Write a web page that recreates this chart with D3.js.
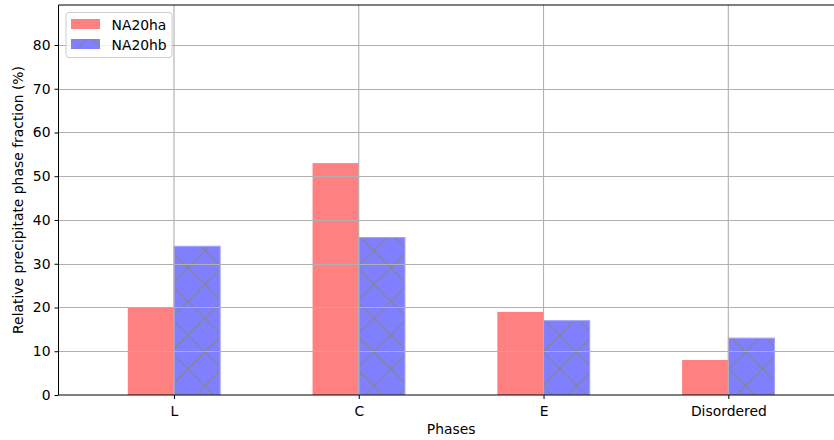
<!DOCTYPE html>
<html>
<head>
<meta charset="utf-8">
<script src="https://cdn.jsdelivr.net/npm/d3@7"></script>
<style>
  html, body { margin: 0; padding: 0; background: #fff; }
  svg { display: block; font-family: "DejaVu Sans", sans-serif; }
</style>
</head>
<body>
<svg id="chart" width="834" height="440"></svg>
<script>
// Phase fractions per precipitate phase for two samples
const categories = ["L", "C", "E", "Disordered"];
const seriesNames = ["NA20ha", "NA20hb"];
const na20ha = [20, 53, 19, 8];
const na20hb = [34, 36, 17, 13];
const yTicks = [0, 10, 20, 30, 40, 50, 60, 70, 80];

const W = 834, H = 440;
const FS = "13.9px";
const margin = { left: 58.5, top: 5, bottom: 395 };
const plotRight = 843.8;   // axes extend slightly past the canvas edge

const svg = d3.select("#chart");

const x = d3.scaleLinear().domain([-0.625, 3.625]).range([margin.left, plotRight]);
const y = d3.scaleLinear().domain([0, 89.14]).range([margin.bottom, margin.top]);
const barW = 0.25;

// Cross-hatch pattern for the second series
const defs = svg.append("defs");
const P = 33.8;
const pat = defs.append("pattern")
  .attr("id", "xhatch")
  .attr("patternUnits", "userSpaceOnUse")
  .attr("x", 2.1).attr("y", 14)
  .attr("width", P).attr("height", P);
pat.append("rect").attr("width", P).attr("height", P).attr("fill", "#8080ff");
pat.append("path")
  .attr("d", `M0,0L${P},${P}M${P},0L0,${P}M${-P/2},${P/2}L${P/2},${-P/2}M${P/2},${P*1.5}L${P*1.5},${P/2}M${-P/2},${P/2}L${P/2},${P*1.5}M${P/2},${-P/2}L${P*1.5},${P/2}`)
  .attr("stroke", "#85857a").attr("stroke-width", 1).attr("fill", "none");

const clip = defs.append("clipPath").attr("id", "plotClip");
clip.append("rect").attr("x", margin.left).attr("y", margin.top)
  .attr("width", plotRight - margin.left).attr("height", margin.bottom - margin.top);

const plot = svg.append("g").attr("clip-path", "url(#plotClip)");

// Bars
plot.append("g").selectAll("rect")
  .data(na20ha)
  .join("rect")
  .attr("x", (d, i) => x(i - barW))
  .attr("y", d => y(d))
  .attr("width", x(barW) - x(0))
  .attr("height", d => y(0) - y(d))
  .attr("fill", "#ff8080");

plot.append("g").selectAll("rect")
  .data(na20hb)
  .join("rect")
  .attr("x", (d, i) => x(i))
  .attr("y", d => y(d))
  .attr("width", x(barW) - x(0))
  .attr("height", d => y(0) - y(d))
  .attr("fill", "url(#xhatch)")
  .attr("stroke", "#a3a3ff")
  .attr("stroke-width", 1);

// Grid lines (drawn above the bars)
const grid = plot.append("g").attr("stroke", "#b0b0b0").attr("stroke-width", 1.1);
grid.selectAll(".gy").data(yTicks).join("line")
  .attr("x1", margin.left).attr("x2", plotRight)
  .attr("y1", d => Math.round(y(d)) + 0.5).attr("y2", d => Math.round(y(d)) + 0.5);
grid.selectAll(".gx").data(categories.map((c, i) => i)).join("line")
  .attr("x1", d => x(d)).attr("x2", d => x(d))
  .attr("y1", margin.top).attr("y2", margin.bottom);

// Axes
const yAxis = d3.axisLeft(y).tickValues(yTicks).tickSize(4).tickPadding(4);
const yG = svg.append("g").attr("transform", `translate(${margin.left},0)`).call(yAxis);
const xAxis = d3.axisBottom(x).tickValues(categories.map((c, i) => i))
  .tickFormat(i => categories[i]).tickSize(4).tickPadding(4);
const xG = svg.append("g").attr("transform", `translate(0,${margin.bottom})`).call(xAxis);
[yG, xG].forEach(g => {
  g.select(".domain").remove();
  g.selectAll(".tick line").attr("stroke", "#000").attr("stroke-width", 1);
  g.selectAll("text").attr("font-size", FS).attr("fill", "#000")
    .attr("font-family", "DejaVu Sans, sans-serif");
});
xG.selectAll("text").attr("dy", "0.9em");

// Spines
svg.append("line").attr("x1", margin.left).attr("x2", margin.left)
  .attr("y1", margin.top).attr("y2", margin.bottom).attr("stroke", "#000").attr("stroke-width", 1);
svg.append("line").attr("x1", margin.left).attr("x2", W)
  .attr("y1", margin.bottom).attr("y2", margin.bottom).attr("stroke", "#000").attr("stroke-width", 1);
svg.append("line").attr("x1", margin.left).attr("x2", W)
  .attr("y1", margin.top).attr("y2", margin.top).attr("stroke", "#000").attr("stroke-width", 1);

// Axis labels
svg.append("text")
  .attr("x", (margin.left + plotRight) / 2).attr("y", 434)
  .attr("text-anchor", "middle").attr("font-size", FS).text("Phases");
svg.append("text")
  .attr("transform", `translate(23,${(margin.top + margin.bottom) / 2}) rotate(-90)`)
  .attr("text-anchor", "middle").attr("font-size", FS)
  .text("Relative precipitate phase fraction (%)");

// Legend
const lg = svg.append("g").attr("transform", "translate(66,12.5)");
lg.append("rect").attr("width", 106).attr("height", 45).attr("rx", 3)
  .attr("fill", "rgba(255,255,255,0.8)").attr("stroke", "#cccccc");
const fills = ["#ff8080", "url(#xhatch)"];
seriesNames.forEach((name, i) => {
  const row = lg.append("g").attr("transform", `translate(5,${6.5 + i * 20})`);
  row.append("rect").attr("width", 29).attr("height", 10).attr("fill", fills[i]);
  row.append("text").attr("x", 40.5).attr("y", 10.5).attr("font-size", FS).text(name);
});
</script>
</body>
</html>
